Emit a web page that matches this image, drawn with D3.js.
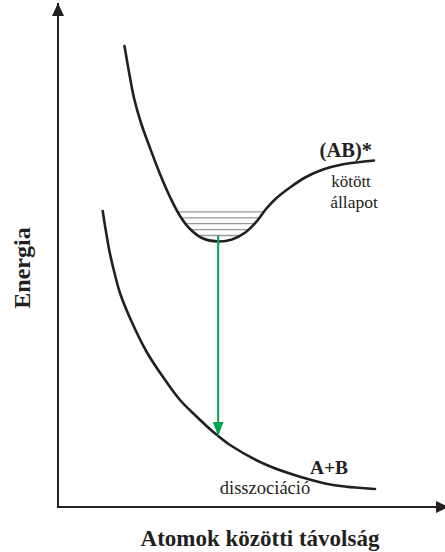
<!DOCTYPE html>
<html><head><meta charset="utf-8">
<script src="https://cdn.jsdelivr.net/npm/d3@7"></script>
<style>html,body{margin:0;padding:0;background:#fff;}svg{display:block;}</style>
</head><body>
<script>
// Excited bound state (AB)* potential curve: distance, energy (arbitrary units)
const upperR = [1.727, 1.844, 1.974, 2.156, 2.390, 2.649, 2.909, 3.169, 3.429, 3.766, 4.156, 4.519, 4.883, 5.169, 5.403, 5.662, 6.026, 6.442, 6.883, 7.377, 7.844, 8.208];
const upperE = [9.389, 8.859, 8.330, 7.821, 7.312, 6.782, 6.314, 5.927, 5.662, 5.468, 5.407, 5.448, 5.601, 5.825, 6.069, 6.283, 6.507, 6.721, 6.874, 6.976, 7.026, 7.057];
// Dissociative A+B curve
const lowerR = [1.161, 1.247, 1.351, 1.481, 1.610, 1.870, 2.304, 2.727, 3.169, 3.603, 4.026, 4.468, 5.421, 6.286, 7.143, 8.234];
const lowerE = [6.029, 5.603, 5.153, 4.725, 4.358, 3.849, 3.157, 2.648, 2.179, 1.839, 1.534, 1.263, 0.855, 0.617, 0.448, 0.367];
// Vibrational levels in the bound well
const levels = [6.01, 5.89, 5.77, 5.65, 5.53];
// Transition arrow: distance, start energy, end energy
const transitionR = 4.16;
const transitionE = [5.53, 1.45];
// Labels
const xTitle = "Atomok közötti távolság";
const yTitle = "Energia";
const upperName = "(AB)*";
const upperDesc = ["kötött", "állapot"];
const lowerName = "A+B";
const lowerDesc = "disszociáció";

const W = 445, H = 552;
const ink = "#231f20";
const svg = d3.select("body").append("svg").attr("width", W).attr("height", H);
const x = d3.scaleLinear().domain([0, 10]).range([58, 443]);
const y = d3.scaleLinear().domain([0, 10]).range([507, 16]);

const defs = svg.append("defs");
defs.append("marker").attr("id", "ax").attr("viewBox", "0 0 13 12")
  .attr("refX", 13).attr("refY", 6).attr("markerWidth", 13).attr("markerHeight", 12)
  .attr("markerUnits", "userSpaceOnUse").attr("orient", "auto")
  .append("path").attr("d", "M0,0L13,6L0,12Z").attr("fill", ink);
defs.append("marker").attr("id", "gr").attr("viewBox", "0 0 14 11")
  .attr("refX", 14).attr("refY", 5.5).attr("markerWidth", 14).attr("markerHeight", 11)
  .attr("markerUnits", "userSpaceOnUse").attr("orient", "auto")
  .append("path").attr("d", "M0,0L14,5.5L0,11Z").attr("fill", "#00a651");

// axes
svg.append("line").attr("x1", x(0)).attr("y1", y(0) + 1).attr("x2", x(0)).attr("y2", 3)
  .attr("stroke", ink).attr("stroke-width", 2).attr("marker-end", "url(#ax)");
svg.append("line").attr("x1", x(0) - 1).attr("y1", y(0)).attr("x2", 449).attr("y2", y(0))
  .attr("stroke", ink).attr("stroke-width", 2).attr("marker-end", "url(#ax)");

const line = d3.line().x(d => x(d[0])).y(d => y(d[1])).curve(d3.curveCatmullRom.alpha(0.5));
const upper = d3.zip(upperR, upperE);
const lower = d3.zip(lowerR, lowerE);

const gLev = svg.append("g");
const upPath = svg.append("path").attr("d", line(upper)).attr("fill", "none")
  .attr("stroke", ink).attr("stroke-width", 2.6).attr("stroke-linecap", "round");

// vibrational levels clipped to the well
const node = upPath.node();
const L = node.getTotalLength();
const pts = d3.range(0, 2001).map(i => node.getPointAtLength(L * i / 2000));
const iMin = d3.maxIndex(pts, p => p.y);
levels.forEach(e => {
  const yy = y(e);
  let i = iMin; while (i > 0 && pts[i].y > yy) i--;
  let j = iMin; while (j < pts.length - 1 && pts[j].y > yy) j++;
  gLev.append("line").attr("x1", pts[i].x).attr("x2", pts[j].x).attr("y1", yy).attr("y2", yy)
    .attr("stroke", "#9a9a9a").attr("stroke-width", 1.3);
});

svg.append("path").attr("d", line(lower)).attr("fill", "none")
  .attr("stroke", ink).attr("stroke-width", 2.6).attr("stroke-linecap", "round");

// transition arrow
svg.append("line").attr("x1", x(transitionR)).attr("x2", x(transitionR))
  .attr("y1", y(transitionE[0])).attr("y2", y(transitionE[1]))
  .attr("stroke", "#00a651").attr("stroke-width", 2).attr("marker-end", "url(#gr)");

const font = "'Liberation Serif', 'Times New Roman', serif";
const t = (txt, xx, yy, size, weight, anchor) => svg.append("text").text(txt)
  .attr("x", xx).attr("y", yy).attr("font-family", font).attr("font-size", size)
  .attr("font-weight", weight).attr("text-anchor", anchor).attr("fill", ink);

t(upperName, 372, 157, 20.5, "bold", "end");
t(upperDesc[0], 351, 187, 17, "normal", "middle");
t(upperDesc[1], 354, 208, 17.5, "normal", "middle");
t(lowerName, 329, 474, 19.5, "bold", "middle");
t(lowerDesc, 265, 494, 18.5, "normal", "middle");
t(xTitle, 260, 546, 23, "bold", "middle");
svg.append("text").text(yTitle).attr("transform", "translate(30,268) rotate(-90)")
  .attr("text-anchor", "middle").attr("font-family", font).attr("font-size", 24)
  .attr("font-weight", "bold").attr("fill", ink);
</script>
</body></html>
